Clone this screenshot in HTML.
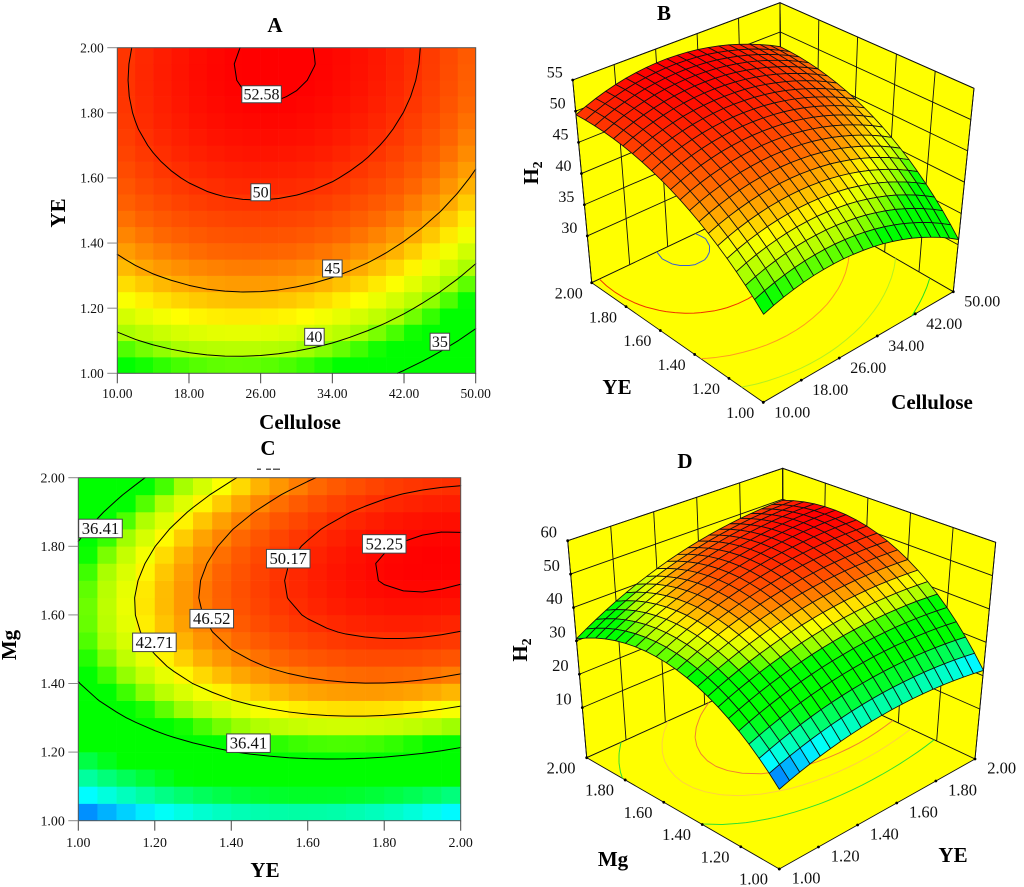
<!DOCTYPE html>
<html lang="en">
<head>
<meta charset="utf-8">
<title>H2 response surface and contour plots</title>
<style>
html,body{margin:0;padding:0;background:#fff;width:1024px;height:887px;overflow:hidden}
svg{display:block}
text{font-family:"Liberation Serif",serif;fill:#111}
.title{font-size:21px;font-weight:bold;fill:#000}
</style>
</head>
<body>
<svg id="figure" xmlns="http://www.w3.org/2000/svg" width="1024" height="887" viewBox="0 0 1024 887">
  <rect x="0" y="0" width="1024" height="887" fill="#fff"/>
  <g id="panel-a"></g>
  <g id="panel-b"></g>
  <g id="panel-c"></g>
  <g id="panel-d"></g>

  <text class="title" x="275" y="32" text-anchor="middle">A</text>
  <text class="title" x="300" y="429" text-anchor="middle">Cellulose</text>
  <text class="title" transform="translate(65,213) rotate(-90)" text-anchor="middle">YE</text>

  <text class="title" x="664" y="20" text-anchor="middle">B</text>
  <text class="title" x="617" y="394" text-anchor="middle">YE</text>
  <text class="title" x="932" y="409" text-anchor="middle">Cellulose</text>
  <text class="title" transform="translate(538,173) rotate(-90)" text-anchor="middle">H<tspan font-size="14" dy="4">2</tspan></text>

  <text class="title" x="268" y="455" text-anchor="middle">C</text>
  <g fill="#333">
    <rect x="257" y="468.6" width="4" height="1.2"/>
    <rect x="266" y="468.6" width="5" height="1.2"/>
    <rect x="273" y="468.6" width="7" height="1.2"/>
  </g>
  <text class="title" x="265" y="877" text-anchor="middle">YE</text>
  <text class="title" transform="translate(16,645) rotate(-90)" text-anchor="middle">Mg</text>

  <text class="title" x="685" y="468" text-anchor="middle">D</text>
  <text class="title" x="613" y="866" text-anchor="middle">Mg</text>
  <text class="title" x="953" y="862" text-anchor="middle">YE</text>
  <text class="title" transform="translate(527,650) rotate(-90)" text-anchor="middle">H<tspan font-size="14" dy="4">2</tspan></text>
</svg>

<script>
const h2ByCelluloseYe = [
[36.62,38.02,39.34,40.58,41.74,42.82,43.82,44.74,45.58,46.34,47.02,47.62,48.14,48.58,48.94,49.22,49.42,49.54,49.58,49.54,49.42],
[37.15,38.56,39.89,41.14,42.31,43.40,44.41,45.34,46.19,46.96,47.65,48.26,48.79,49.24,49.61,49.90,50.10,50.23,50.28,50.25,50.14],
[37.58,39.00,40.34,41.60,42.78,43.88,44.90,45.84,46.70,47.48,48.18,48.80,49.33,49.79,50.17,50.47,50.69,50.83,50.89,50.87,50.77],
[37.92,39.35,40.70,41.97,43.16,44.27,45.29,46.24,47.11,47.90,48.61,49.24,49.79,50.26,50.64,50.95,51.18,51.33,51.40,51.39,51.30],
[38.19,39.63,40.99,42.26,43.46,44.58,45.62,46.58,47.46,48.25,48.97,49.61,50.17,50.65,51.05,51.36,51.60,51.76,51.84,51.84,51.76],
[38.38,39.82,41.19,42.48,43.69,44.82,45.86,46.83,47.72,48.53,49.26,49.90,50.47,50.96,51.37,51.70,51.94,52.11,52.20,52.21,52.14],
[38.46,39.92,41.30,42.60,43.81,44.95,46.01,46.99,47.88,48.70,49.44,50.10,50.67,51.17,51.59,51.93,52.18,52.36,52.46,52.48,52.41],
[38.47,39.94,41.32,42.63,43.86,45.01,46.07,47.06,47.97,48.79,49.54,50.21,50.80,51.30,51.73,52.08,52.35,52.53,52.64,52.67,52.61],
[38.40,39.87,41.27,42.59,43.82,44.98,46.06,47.05,47.97,48.81,49.57,50.24,50.84,51.36,51.79,52.15,52.43,52.62,52.74,52.78,52.73],
[38.23,39.72,41.13,42.45,43.70,44.87,45.95,46.96,47.89,48.73,49.50,50.18,50.79,51.32,51.76,52.13,52.42,52.62,52.75,52.80,52.76],
[37.98,39.48,40.89,42.23,43.49,44.66,45.76,46.77,47.71,48.57,49.34,50.04,50.65,51.19,51.65,52.02,52.32,52.53,52.67,52.73,52.70],
[37.66,39.16,40.59,41.94,43.20,44.39,45.49,46.52,47.46,48.33,49.12,49.82,50.45,50.99,51.46,51.84,52.15,52.37,52.52,52.59,52.57],
[37.25,38.76,40.20,41.55,42.83,44.02,45.14,46.17,47.13,48.00,48.80,49.51,50.15,50.70,51.18,51.57,51.89,52.12,52.28,52.36,52.35],
[36.73,38.26,39.70,41.07,42.35,43.56,44.68,45.73,46.69,47.58,48.38,49.11,49.75,50.32,50.80,51.21,51.53,51.77,51.94,52.03,52.03],
[36.15,37.68,39.14,40.51,41.81,43.02,44.16,45.21,46.19,47.08,47.89,48.63,49.28,49.86,50.35,50.77,51.10,51.36,51.53,51.62,51.64],
[35.48,37.02,38.49,39.87,41.17,42.40,43.54,44.61,45.59,46.49,47.32,48.06,48.73,49.31,49.81,50.24,50.58,50.85,51.03,51.13,51.16],
[34.72,36.27,37.74,39.14,40.45,41.68,42.84,43.91,44.90,45.82,46.65,47.40,48.08,48.67,49.19,49.62,49.97,50.25,50.44,50.55,50.59],
[33.87,35.44,36.92,38.32,39.64,40.89,42.05,43.13,44.14,45.06,45.90,46.67,47.35,47.95,48.48,48.92,49.28,49.57,49.77,49.89,49.94],
[32.95,34.52,36.01,37.43,38.76,40.01,41.19,42.28,43.29,44.22,45.08,45.85,46.54,47.16,47.69,48.14,48.51,48.81,49.02,49.15,49.21],
[31.94,33.52,35.02,36.44,37.79,39.05,40.23,41.33,42.36,43.30,44.16,44.94,45.65,46.27,46.81,47.27,47.65,47.96,48.18,48.32,48.39],
[30.83,32.43,33.94,35.37,36.72,37.99,39.19,40.30,41.33,42.28,43.15,43.95,44.66,45.29,45.84,46.31,46.71,47.02,47.25,47.40,47.47]
];

const h2ByYeMg = [
[18.92,22.02,24.85,27.43,29.73,31.77,33.55,35.06,36.30,37.28,38.00,38.45,38.63,38.56,38.21,37.60,36.73,35.59,34.18,32.51,30.58],
[19.88,23.02,25.89,28.51,30.85,32.93,34.76,36.31,37.59,38.61,39.37,39.86,40.08,40.05,39.74,39.17,38.35,37.25,35.88,34.25,32.36],
[20.76,23.94,26.85,29.51,31.90,34.02,35.88,37.47,38.79,39.86,40.66,41.19,41.45,41.47,41.20,40.67,39.88,38.82,37.50,35.91,34.06],
[21.54,24.76,27.71,30.42,32.84,35.00,36.91,38.54,39.90,41.01,41.85,42.42,42.73,42.78,42.55,42.06,41.32,40.30,39.01,37.47,35.66],
[22.25,25.51,28.50,31.25,33.71,35.92,37.86,39.54,40.94,42.08,42.97,43.58,43.93,44.02,43.84,43.39,42.68,41.71,40.46,38.96,37.19],
[22.85,26.16,29.19,31.98,34.49,36.73,38.72,40.43,41.88,43.06,43.99,44.64,45.03,45.16,45.02,44.61,43.95,43.02,41.81,40.35,38.62],
[23.38,26.73,29.81,32.63,35.18,37.47,39.49,41.25,42.73,43.96,44.93,45.62,46.05,46.23,46.12,45.76,45.14,44.24,43.08,41.66,39.97],
[23.81,27.20,30.32,33.18,35.77,38.10,40.17,41.96,43.49,44.76,45.77,46.50,46.97,47.19,47.13,46.80,46.22,45.37,44.25,42.86,41.22],
[24.17,27.60,30.76,33.67,36.30,38.66,40.77,42.61,44.18,45.49,46.54,47.32,47.82,48.08,48.06,47.78,47.24,46.43,45.35,44.00,42.40],
[24.43,27.90,31.10,34.05,36.72,39.13,41.28,43.16,44.77,46.12,47.21,48.03,48.58,48.88,48.90,48.65,48.15,47.38,46.34,45.04,43.48],
[24.60,28.11,31.35,34.34,37.05,39.50,41.69,43.61,45.26,46.66,47.79,48.65,49.24,49.58,49.64,49.44,48.98,48.25,47.25,45.99,44.47],
[24.70,28.25,31.53,34.56,37.31,39.81,42.04,44.00,45.69,47.12,48.30,49.20,49.83,50.21,50.31,50.16,49.74,49.05,48.09,46.87,45.39],
[24.70,28.29,31.61,34.68,37.48,40.01,42.28,44.29,46.02,47.49,48.70,49.65,50.32,50.75,50.89,50.77,50.39,49.75,48.83,47.65,46.21],
[24.61,28.24,31.60,34.72,37.55,40.13,42.44,44.48,46.26,47.77,49.02,50.01,50.72,51.19,51.37,51.30,50.96,50.35,49.48,48.34,46.94],
[24.43,28.11,31.51,34.67,37.54,40.16,42.51,44.60,46.41,47.97,49.26,50.29,51.04,51.55,51.78,51.74,51.45,50.88,50.04,48.95,47.60],
[24.17,27.89,31.33,34.53,37.45,40.10,42.50,44.63,46.48,48.08,49.41,50.48,51.28,51.82,52.09,52.10,51.84,51.32,50.52,49.47,48.16],
[23.83,27.59,31.08,34.31,37.27,39.97,42.40,44.57,46.47,48.11,49.48,50.59,51.43,52.02,52.32,52.37,52.16,51.68,50.92,49.91,48.64],
[23.39,27.19,30.72,34.00,36.99,39.73,42.21,44.42,46.36,48.04,49.45,50.60,51.48,52.11,52.46,52.55,52.37,51.93,51.22,50.25,49.02],
[22.87,26.71,30.28,33.60,36.64,39.42,41.93,44.18,46.16,47.88,49.34,50.53,51.45,52.12,52.51,52.64,52.51,52.11,51.44,50.51,49.32],
[22.25,26.13,29.74,33.10,36.18,39.00,41.56,43.85,45.87,47.63,49.13,50.36,51.32,52.04,52.46,52.64,52.55,52.19,51.56,50.67,49.52],
[21.56,25.48,29.13,32.53,35.65,38.52,41.12,43.45,45.51,47.31,48.85,50.12,51.13,51.88,52.35,52.56,52.51,52.19,51.60,50.76,49.65]
];

const celluloseTicks = ['10.00','18.00','26.00','34.00','42.00','50.00'];
const unitTicks = ['1.00','1.20','1.40','1.60','1.80','2.00'];
const zTicksB = ['30','35','40','45','50','55'];
const zTicksD = ['10','20','30','40','50','60'];
const zRangeB = [22.5, 55];
const zRangeD = [-5, 60];
const contourLevelsAB = [35, 40, 45, 50, 52.58];
const contourLevelsCD = [36.41, 42.71, 46.52, 50.17, 52.25];

// Contour label text with the data coordinate where the picture prints it.
const contourLabelTextA = ['52.58','50','45','40','35'];
const contourLabelXA = [26.1, 26.0, 34.0, 32.0, 46.0];
const contourLabelYA = [1.857, 1.556, 1.322, 1.112, 1.097];
const contourLabelTextC = ['36.41','52.25','50.17','46.52','42.71','36.41'];
const contourLabelXC = [1.058, 1.80, 1.549, 1.349, 1.199, 1.445];
const contourLabelYC = [1.852, 1.807, 1.764, 1.589, 1.52, 1.226];

const colorScaleValues = [17, 24, 31, 37.8, 40.2, 42.7, 45, 47.4, 50, 52.6];
const colorScaleColors = [[0,0,255],[0,255,255],[0,255,0],[0,255,0],[170,255,0],[255,255,0],[255,170,0],[255,100,0],[255,50,0],[255,0,0]];

const NS = 'http://www.w3.org/2000/svg';

function make(tag, attrs, parent) {
  const el = document.createElementNS(NS, tag);
  for (const k in attrs) el.setAttribute(k, attrs[k]);
  parent.appendChild(el);
  return el;
}

function colorFor(v) {
  const vals = colorScaleValues, cols = colorScaleColors;
  if (v <= vals[0]) return 'rgb(' + cols[0].join(',') + ')';
  for (let i = 1; i < vals.length; i++) {
    if (v <= vals[i]) {
      const t = (v - vals[i - 1]) / (vals[i] - vals[i - 1]);
      const c = cols[i].map((b, k) => Math.round(cols[i - 1][k] + (b - cols[i - 1][k]) * t));
      return 'rgb(' + c.join(',') + ')';
    }
  }
  return 'rgb(' + cols[cols.length - 1].join(',') + ')';
}

function contourSegments(grid, level) {
  const segs = [];
  for (let i = 0; i < grid.length - 1; i++) {
    for (let j = 0; j < grid[i].length - 1; j++) {
      const a = grid[i][j], b = grid[i + 1][j], c = grid[i + 1][j + 1], d = grid[i][j + 1];
      const pts = [];
      if ((a < level) !== (b < level)) pts.push([i + (level - a) / (b - a), j]);
      if ((b < level) !== (c < level)) pts.push([i + 1, j + (level - b) / (c - b)]);
      if ((d < level) !== (c < level)) pts.push([i + (level - d) / (c - d), j + 1]);
      if ((a < level) !== (d < level)) pts.push([i, j + (level - a) / (d - a)]);
      if (pts.length >= 2) segs.push([pts[0], pts[1]]);
      if (pts.length === 4) segs.push([pts[2], pts[3]]);
    }
  }
  return segs;
}

function segmentsToPath(segs, mapper) {
  return segs.map(s => {
    const p = mapper(s[0][0], s[0][1]);
    const q = mapper(s[1][0], s[1][1]);
    return 'M' + p[0].toFixed(2) + ' ' + p[1].toFixed(2) + 'L' + q[0].toFixed(2) + ' ' + q[1].toFixed(2);
  }).join('');
}

function drawContourPanel(parent, cfg) {
  const g = cfg.grid;
  const nx = g.length - 1, ny = g[0].length - 1;
  const xDom = [parseFloat(cfg.xTicks[0]), parseFloat(cfg.xTicks[cfg.xTicks.length - 1])];
  const yDom = [parseFloat(cfg.yTicks[0]), parseFloat(cfg.yTicks[cfg.yTicks.length - 1])];
  const xScale = v => cfg.left + (v - xDom[0]) / (xDom[1] - xDom[0]) * (cfg.right - cfg.left);
  const yScale = v => cfg.bottom - (v - yDom[0]) / (yDom[1] - yDom[0]) * (cfg.bottom - cfg.top);
  const xAt = i => xScale(xDom[0] + (xDom[1] - xDom[0]) * i / nx);
  const yAt = j => yScale(yDom[0] + (yDom[1] - yDom[0]) * j / ny);

  for (let i = 0; i < nx; i++) {
    for (let j = 0; j < ny; j++) {
      const avg = (g[i][j] + g[i + 1][j] + g[i][j + 1] + g[i + 1][j + 1]) / 4;
      const cell = make('rect', {
        x: xAt(i).toFixed(2), y: yAt(j + 1).toFixed(2),
        width: (xAt(i + 1) - xAt(i) + 0.3).toFixed(2),
        height: (yAt(j) - yAt(j + 1) + 0.3).toFixed(2),
        fill: colorFor(avg)
      }, parent);
      
      
    }
  }

  cfg.levels.forEach(level => {
    const line = make('path', {
      d: segmentsToPath(contourSegments(g, level), (a, b) => [xAt(a), yAt(b)]),
      fill: 'none', stroke: '#000', 'stroke-width': 1, 'stroke-linecap': 'round'
    }, parent);
    
    
  });

  const frame = make('rect', {
    x: cfg.left, y: cfg.top, width: cfg.right - cfg.left, height: cfg.bottom - cfg.top,
    fill: 'none', stroke: '#555', 'stroke-width': 1
  }, parent);
  
  

  cfg.xTicks.forEach(label => {
    const x = xScale(parseFloat(label));
    const tick = make('line', { x1: x, x2: x, y1: cfg.bottom, y2: cfg.bottom + 10, stroke: '#444', 'stroke-width': 1 }, parent);
    
    
    const t = make('text', { x: x, y: cfg.bottom + cfg.xLabelGap, 'text-anchor': 'middle', 'font-size': cfg.tickSize }, parent);
    t.textContent = label;
    
    
  });
  cfg.yTicks.forEach(label => {
    const y = yScale(parseFloat(label));
    const tick = make('line', { x1: cfg.left - 10, x2: cfg.left, y1: y, y2: y, stroke: '#888', 'stroke-width': 1 }, parent);
    
    
    const t = make('text', { x: cfg.left - 13.5, y: y + 4.6, 'text-anchor': 'end', 'font-size': cfg.tickSize }, parent);
    t.textContent = label;
    
    
  });

  cfg.labelText.forEach((label, k) => {
    const cx = xScale(cfg.labelX[k]), cy = yScale(cfg.labelY[k]);
    const digits = label.replace('.', '').length;
    const em = digits * 0.5 + (label.length - digits) * 0.25;
    const w = em * cfg.labelSize + cfg.labelPad, h = cfg.labelHeight;
    const box = make('rect', { x: cx - w / 2, y: cy - h / 2, width: w, height: h, fill: '#fff', stroke: '#444', 'stroke-width': 1 }, parent);
    
    
    const t = make('text', { x: cx, y: cy + cfg.labelSize * 0.33, 'text-anchor': 'middle', 'font-size': cfg.labelSize }, parent);
    t.textContent = label;
    
    
  });
}

function drawSurfacePanel(parent, cfg) {
  const g = cfg.grid;
  const nx = g.length - 1, ny = g[0].length - 1;
  const c = cfg.corners;
  // Trilinear map of the cube: u along right floor edge, v along left floor edge, w upward.
  const proj = (u, v, w) => {
    const floor = k => (1 - u) * (1 - v) * c.F0[k] + u * (1 - v) * c.R0[k] + (1 - u) * v * c.L0[k] + u * v * c.B0[k];
    const top = k => (1 - u) * (1 - v) * c.F1[k] + u * (1 - v) * c.R1[k] + (1 - u) * v * c.L1[k] + u * v * c.B1[k];
    return [floor(0) + (top(0) - floor(0)) * w, floor(1) + (top(1) - floor(1)) * w];
  };
  const zNorm = z => (z - cfg.zRange[0]) / (cfg.zRange[1] - cfg.zRange[0]);
  const poly = pts => pts.map(p => p[0].toFixed(2) + ',' + p[1].toFixed(2)).join(' ');
  const lineStyle = { stroke: '#111', 'stroke-width': 0.9, fill: 'none' };

  const wallLeft = make('polygon', { points: poly([proj(0,1,0), proj(1,1,0), proj(1,1,1), proj(0,1,1)]), fill: '#ffff00', stroke: '#111', 'stroke-width': 0.9 }, parent);
  
  
  const wallRight = make('polygon', { points: poly([proj(1,1,0), proj(1,0,0), proj(1,0,1), proj(1,1,1)]), fill: '#ffff00', stroke: '#111', 'stroke-width': 0.9 }, parent);
  
  
  const floor = make('polygon', { points: poly([proj(0,0,0), proj(1,0,0), proj(1,1,0), proj(0,1,0)]), fill: '#ffff00', stroke: '#111', 'stroke-width': 0.9 }, parent);
  
  

  const uDom = [parseFloat(cfg.uTicks[0]), parseFloat(cfg.uTicks[cfg.uTicks.length - 1])];
  const vDom = [parseFloat(cfg.vTicks[0]), parseFloat(cfg.vTicks[cfg.vTicks.length - 1])];
  const uScale = t => (t - uDom[0]) / (uDom[1] - uDom[0]);
  const vScale = t => (t - vDom[0]) / (vDom[1] - vDom[0]);

  cfg.uTicks.forEach(label => {
    const u = uScale(parseFloat(label));
    const a = proj(u, 1, 0), b = proj(u, 1, 1);
    const l = make('line', Object.assign({ x1: a[0], y1: a[1], x2: b[0], y2: b[1] }, lineStyle), parent);
    
    
  });
  cfg.vTicks.forEach(label => {
    const v = vScale(parseFloat(label));
    const a = proj(1, v, 0), b = proj(1, v, 1);
    const l = make('line', Object.assign({ x1: a[0], y1: a[1], x2: b[0], y2: b[1] }, lineStyle), parent);
    
    
  });
  cfg.zTicks.forEach(label => {
    const w = zNorm(parseFloat(label));
    const a = proj(0, 1, w), b = proj(1, 1, w), d = proj(1, 0, w);
    const l = make('polyline', Object.assign({ points: poly([a, b, d]) }, lineStyle), parent);
    
    
  });

  cfg.levels.forEach((level, k) => {
    const line = make('path', {
      d: segmentsToPath(contourSegments(g, level), (a, b) => proj(a / nx, b / ny, 0)),
      fill: 'none', stroke: cfg.levelColors[k], 'stroke-width': 1
    }, parent);
    
    
  });

  for (let i = nx - 1; i >= 0; i--) {
    for (let j = ny - 1; j >= 0; j--) {
      const avg = (g[i][j] + g[i + 1][j] + g[i][j + 1] + g[i + 1][j + 1]) / 4;
      const quad = make('polygon', {
        points: poly([
          proj(i / nx, j / ny, zNorm(g[i][j])),
          proj((i + 1) / nx, j / ny, zNorm(g[i + 1][j])),
          proj((i + 1) / nx, (j + 1) / ny, zNorm(g[i + 1][j + 1])),
          proj(i / nx, (j + 1) / ny, zNorm(g[i][j + 1]))
        ]),
        fill: colorFor(avg), stroke: '#111', 'stroke-width': 0.85, 'stroke-linejoin': 'round'
      }, parent);
      
      
    }
  }

  const tickDot = p => {
    const dot = make('circle', { cx: p[0], cy: p[1], r: 1.4, fill: '#000' }, parent);
    
    
  };
  cfg.uTicks.forEach(label => {
    const p = proj(uScale(parseFloat(label)), 0, 0);
    tickDot(p);
    const t = make('text', { x: p[0] + cfg.uOffset[0], y: p[1] + cfg.uOffset[1] + 5, 'text-anchor': 'middle', 'font-size': cfg.tickSize }, parent);
    t.textContent = label;
    
    
  });
  cfg.vTicks.forEach(label => {
    const p = proj(0, vScale(parseFloat(label)), 0);
    tickDot(p);
    const t = make('text', { x: p[0] + cfg.vOffset[0], y: p[1] + cfg.vOffset[1] + 5, 'text-anchor': 'middle', 'font-size': cfg.tickSize }, parent);
    t.textContent = label;
    
    
  });
  cfg.zTicks.forEach(label => {
    const p = proj(0, 1, zNorm(parseFloat(label)));
    tickDot(p);
    const t = make('text', { x: p[0] + cfg.zOffset[0], y: p[1] + cfg.zOffset[1] + 5, 'text-anchor': 'middle', 'font-size': cfg.tickSize }, parent);
    t.textContent = label;
    
    
  });
}

drawContourPanel(document.getElementById('panel-a'), {
  grid: h2ByCelluloseYe, xTicks: celluloseTicks, yTicks: unitTicks, levels: contourLevelsAB,
  labelText: contourLabelTextA, labelX: contourLabelXA, labelY: contourLabelYA,
  left: 117.3, right: 475.7, top: 47.7, bottom: 373.3,
  tickSize: 13.5, xLabelGap: 24.7, labelSize: 16, labelPad: 3.5, labelHeight: 17
});

drawContourPanel(document.getElementById('panel-c'), {
  grid: h2ByYeMg, xTicks: unitTicks, yTicks: unitTicks, levels: contourLevelsCD,
  labelText: contourLabelTextC, labelX: contourLabelXC, labelY: contourLabelYC,
  left: 78.3, right: 460.7, top: 477.7, bottom: 820.7,
  tickSize: 13.9, xLabelGap: 26.3, labelSize: 16.7, labelPad: 6, labelHeight: 18.5
});

drawSurfacePanel(document.getElementById('panel-b'), {
  grid: h2ByCelluloseYe, uTicks: celluloseTicks, vTicks: unitTicks, zTicks: zTicksB, zRange: zRangeB,
  levels: contourLevelsAB, levelColors: ['#20e020', '#b4f020', '#ff9a20', '#f03000', '#3a5fd0'],
  corners: {
    F0: [763.3, 402.3], R0: [953.3, 291.7], L0: [591.7, 282.7], B0: [781.7, 192.7],
    F1: [764, 199.7], R1: [974, 88.3], L1: [572.7, 80], B1: [780, 2.7]
  },
  tickSize: 16, uOffset: [29, 10], vOffset: [-23, 10.7], zOffset: [-18, -7.7]
});

drawSurfacePanel(document.getElementById('panel-d'), {
  grid: h2ByYeMg, uTicks: unitTicks, vTicks: unitTicks, zTicks: zTicksD, zRange: zRangeD,
  levels: contourLevelsCD, levelColors: ['#30e030', '#ffd040', '#f08030', '#f03000', '#3a5fd0'],
  corners: {
    F0: [779.3, 869], R0: [975, 759], L0: [586.7, 757.7], B0: [783.3, 669],
    F1: [779.3, 652.3], R1: [995.7, 542.3], L1: [567.7, 540.7], B1: [782.7, 468.3]
  },
  tickSize: 16.5, uOffset: [26.7, 9.3], vOffset: [-25.7, 10.7], zOffset: [-19, -8.3]
});
</script>
</body>
</html>
